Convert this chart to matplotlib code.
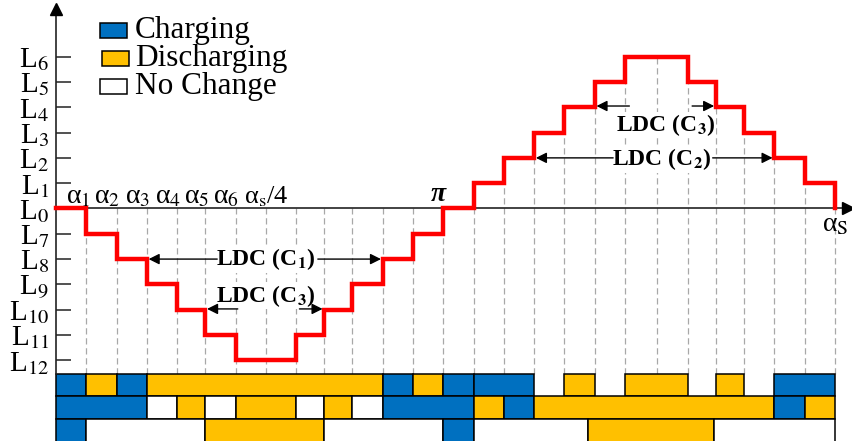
import matplotlib.pyplot as plt
from matplotlib.patches import Rectangle

plt.rcParams['font.family'] = ['Liberation Serif', 'DejaVu Serif']
plt.rcParams['mathtext.fontset'] = 'stix'

# switching angles over one period (deg) and the output level between them
edges = [0, 14, 28, 42, 56, 69, 83, 111, 124, 137, 151, 165, 179,
         193, 207, 221, 235, 249, 263, 292, 305, 318, 332, 346, 360]
levels = [0, -1, -2, -3, -4, -5, -6, -5, -4, -3, -2, -1,
          0, 1, 2, 3, 4, 5, 6, 5, 4, 3, 2, 1]
centers = [97, 278]  # middle of the flat bottom / flat top

ytick_vals = [6, 5, 4, 3, 2, 1, 0, -1, -2, -3, -4, -5, -6]
ytick_names = ['L$_6$', 'L$_5$', 'L$_4$', 'L$_3$', 'L$_2$', 'L$_1$', 'L$_0$',
               'L$_7$', 'L$_8$', 'L$_9$', 'L$_{10}$', 'L$_{11}$', 'L$_{12}$']
alpha_names = ['α$_1$', 'α$_2$', 'α$_3$', 'α$_4$', 'α$_5$', 'α$_6$']

# capacitor states per interval: C = charging, D = discharging, N = no change, None = empty
row_c1 = [(0, 14, 'C'), (14, 28, 'D'), (28, 42, 'C'), (42, 151, 'D'), (151, 165, 'C'),
          (165, 179, 'D'), (179, 193, 'C'), (193, 221, 'C'), (235, 249, 'D'),
          (263, 292, 'D'), (305, 318, 'D'), (332, 360, 'C')]
row_c2 = [(0, 42, 'C'), (42, 56, 'N'), (56, 69, 'D'), (69, 83, 'N'), (83, 111, 'D'),
          (111, 124, 'N'), (124, 137, 'D'), (137, 151, 'N'), (151, 193, 'C'),
          (193, 207, 'D'), (207, 221, 'C'), (221, 332, 'D'), (332, 346, 'C'),
          (346, 360, 'D')]
row_c3 = [(0, 14, 'C'), (14, 69, 'N'), (69, 124, 'D'), (124, 179, 'N'), (179, 193, 'C'),
          (193, 246, 'N'), (246, 304, 'D'), (304, 360, 'N')]

state_colors = {'C': '#0070C0', 'D': '#FFC000', 'N': 'white'}

fig = plt.figure(figsize=(8.52, 4.41), dpi=100)
ax = fig.add_axes([0, 0, 1, 1])
ax.set_xlim(-25.9, 367.9)
ax.set_ylim(-9.19, 8.24)

bar_top = -6.55
row_h = 0.88

# dashed guides at every switching angle
guide_x, guide_top = [], []
for i in range(1, len(edges)):
    right = levels[i] if i < len(levels) else 0
    guide_x.append(edges[i])
    guide_top.append(max(0, min(levels[i - 1], right)))
for c in centers:
    k = max(i for i in range(len(levels)) if edges[i] <= c)
    guide_x.append(c)
    guide_top.append(max(0, levels[k]))
ax.vlines(guide_x, bar_top, guide_top, colors='#A8A8A8',
          linestyles=(0, (5, 3)), lw=0.9, zorder=1)

# staircase output
ax.step(edges, levels + [0], where='post', color='red', lw=3.2, zorder=3,
        solid_joinstyle='miter')

# state bars for C1, C2, C3
for r, row in enumerate([row_c1, row_c2, row_c3]):
    y0 = bar_top - (r + 1) * row_h
    h = row_h if r < 2 else row_h + 0.1
    if r == 2:
        y0 -= 0.1
    for a, b, s in row:
        ax.bar(a, h, width=b - a, bottom=y0, align='edge',
               color=state_colors[s], edgecolor='black', lw=1.1, zorder=2)

# axes with arrow heads
for side in ['top', 'right']:
    ax.spines[side].set_visible(False)
ax.spines['left'].set_position(('data', 0))
ax.spines['bottom'].set_position(('data', 0))
ax.spines['left'].set_bounds(bar_top, 7.9)
ax.spines['bottom'].set_bounds(0, 366)
for side in ['left', 'bottom']:
    ax.spines[side].set_linewidth(1.2)
    ax.spines[side].set_color('#222222')
ax.plot(0, 7.9, marker='^', color='black', ms=8, clip_on=False, zorder=4)
ax.plot(366, 0, marker='>', color='black', ms=8, clip_on=False, zorder=4)

ax.set_xticks([])
ax.set_yticks(ytick_vals, ytick_names)
ax.tick_params(axis='y', direction='in', length=11, width=1.1, pad=5,
               labelsize=21, color='#222222')

# angle labels
for x, name in zip(edges[1:7], alpha_names):
    ax.text(x + 1.8, 0.22, name, ha='right', va='baseline', fontsize=20)
ax.text(centers[0], 0.22, 'α$_\\mathrm{s}$/4', ha='center', va='baseline', fontsize=19)
ax.text(edges[12] + 1.2, 0.3, 'π', ha='right', va='baseline', fontsize=20,
        fontweight='bold', style='italic')
ax.text(edges[-1], -0.15, 'α$_\\mathrm{S}$', ha='center', va='top', fontsize=20)

# LDC annotations
def ldc(label, x, y, tail_l, tip_l, tail_r, tip_r, ya):
    ax.text(x, y, label, ha='center', va='center', fontsize=17, fontweight='bold',
            bbox=dict(fc='white', ec='none', pad=0.3), zorder=5)
    for tail, tip in [(tail_l, tip_l), (tail_r, tip_r)]:
        ax.annotate('', xy=(tip, ya), xytext=(tail, ya), zorder=5,
                    arrowprops=dict(arrowstyle='-|>', color='black', lw=1,
                                    mutation_scale=16, shrinkA=0, shrinkB=0))

ldc('LDC (C$_\\mathbf{1}$)', centers[0], -2.0, 74.5, edges[3] + 0.8, 121, edges[10] - 0.8, -2.0)
ldc('LDC (C$_\\mathbf{3}$)', centers[0], -3.45, 84, edges[5] + 0.8, 112.5, edges[8] - 0.8, -3.97)
ldc('LDC (C$_\\mathbf{3}$)', 282, 3.3, 265, edges[17] + 0.8, 294, edges[20] - 0.8, 4.05)
ldc('LDC (C$_\\mathbf{2}$)', 280, 1.95, 257.5, edges[15] + 0.8, 303.5, edges[22] - 0.8, 2.0)

# legend
legend_items = [('#0070C0', 'Charging'), ('#FFC000', 'Discharging'), ('white', 'No Change')]
for i, (fc, name) in enumerate(legend_items):
    yb = 0.9138 - i * 0.0635
    ax.add_patch(Rectangle((0.1174 + (0.0023 if i == 1 else 0), yb), 0.0317, 0.034,
                           transform=ax.transAxes, fc=fc, ec='black', lw=1.1))
    ax.text(0.1585, yb, name, transform=ax.transAxes, ha='left', va='baseline',
            fontsize=22.5)

fig.savefig('out.png', dpi=100)
